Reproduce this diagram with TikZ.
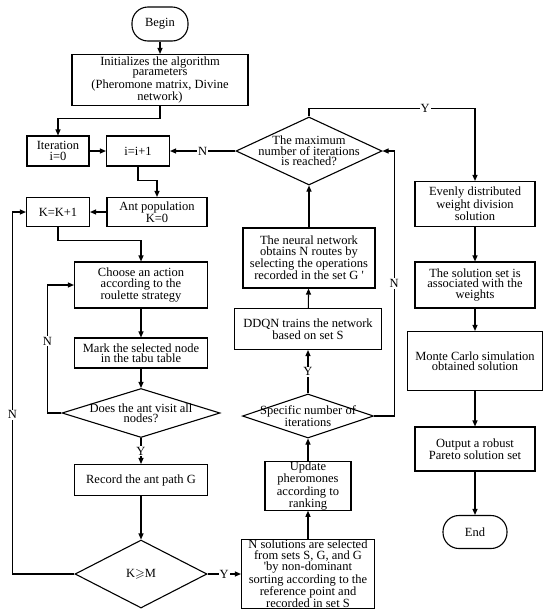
\documentclass[tikz,border=0pt]{standalone}
\usepackage{amssymb}
\usepackage{fontspec}
\setmainfont{Liberation Serif}
\usetikzlibrary{shapes.geometric,arrows.meta}
\begin{document}
\begin{tikzpicture}[x=1pt,y=-1pt,line width=1.1pt,
		font=\fontsize{12.5}{10.5}\selectfont,
		box/.style={draw,rectangle,align=center,inner sep=0pt},
		term/.style={draw,rectangle,rounded corners=16pt,inner sep=0pt},
		dia/.style={draw,diamond,inner sep=0pt},
		dtext/.style={align=center,inner sep=0pt},
		arr/.style={-{Triangle[length=6pt,width=5pt]}},
		lab/.style={fill=white,inner sep=1pt}]
		\useasboundingbox (0,0) rectangle (550,616);

		% left column
		\node[term, minimum width=56pt, minimum height=34pt] (begin) at (160,24) {Begin};
		\node[box, minimum width=176pt, minimum height=51pt] (init) at (160,80) {Initializes the algorithm\\parameters\\(Pheromone matrix, Divine\\network)};
		\node[box, minimum width=62pt, minimum height=30pt] (iter) at (58,151) {Iteration\\i=0};
		\node[box, minimum width=63pt, minimum height=30pt] (inc) at (138,151) {i=i+1};
		\node[box, minimum width=100pt, minimum height=29pt] (antpop) at (157,212) {Ant population\\K=0};
		\node[box, minimum width=63pt, minimum height=29pt] (kinc) at (58,212) {K=K+1};
		\node[box, minimum width=133pt, minimum height=46pt] (choose) at (141,285) {Choose an action\\according to the\\roulette strategy};
		\node[box, minimum width=133pt, minimum height=30pt] (mark) at (141,353) {Mark the selected node\\in the tabu table};
		\node[dia, minimum width=158pt, minimum height=49pt, label={[dtext]center:{Does the ant visit all\\nodes?}}] (visit) at (141,413) {};
		\node[box, minimum width=133pt, minimum height=31pt] (record) at (141,480) {Record the ant path G};
		\node[dia, minimum width=132pt, minimum height=68pt, label={[dtext]center:{K$\geqslant$M}}] (kgem) at (141,574) {};

		% middle column
		\node[box, minimum width=133pt, minimum height=69pt] (nsol) at (308,574) {N solutions are selected\\from sets S, G, and G\\\textquotesingle by non-dominant\\sorting according to the\\reference point and\\recorded in set S};
		\node[box, minimum width=86pt, minimum height=41pt] (update) at (308,486) {Update\\pheromones\\according to\\ranking};
		\node[dia, minimum width=131pt, minimum height=44pt, label={[dtext]center:{Specific number of\\iterations}}] (spec) at (308,416) {};
		\node[box, minimum width=147pt, minimum height=41pt] (ddqn) at (308,329) {DDQN trains the network\\based on set S};
		\node[box, minimum width=132pt, minimum height=60pt] (neural) at (309,258) {The neural network\\obtains N routes by\\selecting the operations\\recorded in the set G \textquotesingle};
		\node[dia, minimum width=146pt, minimum height=68pt, label={[dtext]center:{The maximum\\number of iterations\\is reached?}}] (maxit) at (309,151) {};

		% right column
		\node[box, minimum width=120pt, minimum height=45pt] (even) at (475,204) {Evenly distributed\\weight division\\solution};
		\node[box, minimum width=120pt, minimum height=46pt] (solset) at (475,285) {The solution set is\\associated with the\\weights};
		\node[box, minimum width=135pt, minimum height=59pt] (monte) at (475,361) {Monte Carlo simulation\\obtained solution};
		\node[box, minimum width=120pt, minimum height=44pt] (output) at (475,449) {Output a robust\\Pareto solution set};
		\node[term, minimum width=64pt, minimum height=33pt] (end) at (475,532) {End};

		% connectors
		\draw[arr] (begin) -- (init);
		\draw[arr] (init.south) -- ++(0,12) -| (iter.north);
		\draw[arr] (iter) -- (inc);
		\draw[arr] (maxit.west) -- node[lab] {N} (inc.east);
		\draw[arr] (inc.south) -- ++(0,14) -| (antpop.north);
		\draw[arr] (antpop) -- (kinc);
		\draw[arr] (kinc.south) -- ++(0,13) -| (choose.north);
		\draw[arr] (choose) -- (mark);
		\draw[arr] (mark) -- (visit.north);
		\draw[arr] (visit.west) -- ++(-14,0) |- node[lab, pos=0.28] {N} (choose.west);
		\draw[arr] (visit.south) -- node[lab] {Y} (record.north);
		\draw[arr] (record) -- (kgem.north);
		\draw[arr] (kgem.west) -- ++(-62,0) |- node[lab, pos=0.22] {N} (kinc.west);
		\draw[arr] (kgem.east) -- node[lab] {Y} (nsol.west);
		\draw[arr] (nsol) -- (update);
		\draw[arr] (update) -- (spec.south);
		\draw[arr] (spec.north) -- node[lab] {Y} (ddqn.south);
		\draw[arr] (ddqn) -- (neural);
		\draw[arr] (neural) -- (maxit.south);
		\draw[arr] (spec.east) -- ++(20,0) |- node[lab, pos=0.25] {N} (maxit.east);
		\draw[arr] (maxit.north) -- ++(0,-8) -| node[lab, pos=0.35] {Y} (even.north);
		\draw[arr] (even) -- (solset);
		\draw[arr] (solset) -- (monte);
		\draw[arr] (monte) -- (output);
		\draw[arr] (output) -- (end);
	\end{tikzpicture}
\end{document}
